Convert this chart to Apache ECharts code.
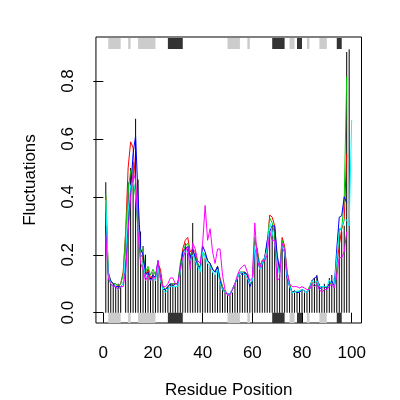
<!DOCTYPE html>
<html>
<head>
<meta charset="utf-8">
<script src="https://cdn.jsdelivr.net/npm/echarts/dist/echarts.min.js"></script>
<style>
html, body { margin: 0; padding: 0; background: #fff; }
#chart { width: 400px; height: 400px; }
</style>
</head>
<body>
<div id="chart"></div>
<script>
// per-residue fluctuations, residue 1 first
const blackFluct = [0.45,0.12,0.10,0.10,0.09,0.10,0.09,null,0.25,0.45,
  0.50,0.52,0.67,0.46,0.28,0.23,0.20,0.15,0.12,0.14,
  0.12,0.17,0.13,0.08,0.08,0.09,0.10,0.10,0.09,0.10,
  0.16,0.21,0.24,0.22,0.20,0.31,0.20,0.17,0.15,0.20,
  0.19,0.17,0.16,0.14,0.13,0.16,0.11,0.08,0.07,0.06,
  0.06,0.07,0.10,0.12,0.13,0.14,0.14,0.13,0.10,0.11,
  0.22,0.22,0.15,0.17,0.19,0.22,0.28,0.30,0.29,0.17,
  0.13,0.24,0.22,0.13,0.09,0.07,0.07,0.07,0.07,0.08,
  0.07,0.07,0.09,0.11,0.12,0.13,0.10,0.09,0.10,0.09,
  0.12,0.13,0.12,0.20,0.29,0.28,0.30,0.90,0.91];
const redFluct = [0.40,0.14,0.11,0.10,0.10,0.09,0.10,0.14,0.28,0.50,
  0.59,0.57,0.45,0.30,0.20,0.19,0.13,0.15,0.12,0.13,
  0.12,0.17,0.15,0.09,0.08,0.09,0.10,0.10,0.10,0.10,
  0.16,0.22,0.25,0.26,0.21,0.22,0.21,0.17,0.15,0.20,
  0.20,0.18,0.17,0.15,0.14,0.16,0.12,0.09,0.07,0.065,
  0.065,0.08,0.10,0.12,0.14,0.14,0.14,0.13,0.10,0.11,
  0.25,0.22,0.16,0.18,0.19,0.24,0.337,0.33,0.30,0.19,
  0.14,0.26,0.23,0.14,0.10,0.07,0.075,0.07,0.075,0.08,
  0.075,0.07,0.08,0.11,0.10,0.11,0.09,0.09,0.09,0.09,
  0.10,0.10,0.09,0.17,0.23,0.29,0.32,0.55];
const greenFluct = [0.41,0.14,0.11,0.10,0.10,0.09,0.10,0.13,0.27,0.42,
  0.49,0.46,0.40,0.28,0.21,0.22,0.14,0.16,0.13,0.15,
  0.13,0.17,0.12,0.09,0.08,0.09,0.10,0.10,0.10,0.10,
  0.17,0.21,0.23,0.24,0.20,0.21,0.20,0.17,0.15,0.21,
  0.20,0.18,0.17,0.15,0.14,0.16,0.11,0.09,0.07,0.065,
  0.065,0.08,0.10,0.12,0.14,0.14,0.14,0.13,0.10,0.11,
  0.26,0.21,0.16,0.18,0.19,0.23,0.327,0.31,0.27,0.18,
  0.14,0.25,0.22,0.14,0.10,0.07,0.075,0.07,0.075,0.08,
  0.075,0.07,0.09,0.11,0.10,0.11,0.09,0.09,0.09,0.09,
  0.10,0.10,0.09,0.18,0.285,0.29,0.39,0.815];
const blueFluct = [0.30,0.13,0.11,0.10,0.09,0.09,0.09,0.10,0.16,0.30,
  0.42,0.55,0.61,0.40,0.22,0.20,0.13,0.14,0.11,0.13,
  0.12,0.18,0.12,0.08,0.08,0.09,0.10,0.09,0.10,0.10,
  0.15,0.21,0.22,0.23,0.19,0.22,0.19,0.16,0.16,0.23,
  0.21,0.18,0.17,0.15,0.14,0.16,0.11,0.08,0.07,0.065,
  0.065,0.08,0.10,0.12,0.14,0.13,0.14,0.13,0.09,0.11,
  0.22,0.20,0.15,0.165,0.19,0.25,0.28,0.30,0.30,0.20,
  0.15,0.22,0.21,0.12,0.09,0.07,0.075,0.07,0.07,0.08,
  0.075,0.07,0.08,0.11,0.12,0.125,0.08,0.09,0.09,0.085,
  0.10,0.11,0.09,0.22,0.33,0.335,0.40,0.38];
const cyanFluct = [0.39,0.13,0.10,0.09,0.09,0.08,0.09,0.10,0.20,0.35,
  0.44,0.45,0.42,0.30,0.18,0.17,0.12,0.13,0.11,0.12,
  0.11,0.16,0.11,0.08,0.07,0.08,0.09,0.09,0.09,0.09,
  0.14,0.19,0.21,0.21,0.18,0.20,0.18,0.16,0.14,0.21,
  0.19,0.17,0.16,0.14,0.13,0.15,0.10,0.08,0.07,0.065,
  0.065,0.08,0.10,0.12,0.14,0.14,0.13,0.12,0.10,0.11,
  0.23,0.19,0.15,0.17,0.19,0.22,0.31,0.28,0.24,0.17,
  0.13,0.23,0.21,0.13,0.09,0.07,0.07,0.075,0.075,0.08,
  0.075,0.07,0.08,0.11,0.10,0.11,0.09,0.09,0.09,0.09,
  0.113,0.10,0.09,0.19,0.28,0.30,0.32,0.32,0.30,0.665];
const magentaFluct = [0.27,0.12,0.10,0.09,0.09,0.08,0.09,0.09,0.14,0.28,
  0.40,0.48,0.46,0.28,0.17,0.15,0.11,0.13,0.11,0.12,
  0.12,0.18,0.12,0.09,0.09,0.10,0.12,0.12,0.10,0.10,
  0.15,0.19,0.21,0.23,0.15,0.24,0.22,0.18,0.17,0.24,
  0.37,0.25,0.29,0.21,0.17,0.22,0.22,0.13,0.08,0.06,
  0.06,0.08,0.10,0.13,0.15,0.16,0.165,0.14,0.11,0.12,
  0.31,0.18,0.155,0.18,0.18,0.20,0.28,0.25,0.25,0.11,
  0.12,0.24,0.22,0.14,0.10,0.09,0.09,0.09,0.085,0.09,
  0.085,0.08,0.08,0.10,0.09,0.10,0.08,0.07,0.08,0.08,
  0.09,0.10,0.085,0.13,0.19,0.19,0.21,0.28];

// secondary structure, [start, end] residues
const helixRanges = [[26, 32], [68, 73], [78, 80], [94, 96]];
const strandRanges = [[2, 7], [10, 11], [14, 21], [50, 55], [58, 59], [75, 77], [82, 83], [87, 90]];

const xTicks = [0, 20, 40, 60, 80, 100];
const yTicks = [0, 0.2, 0.4, 0.6, 0.8];

function pairs(arr) {
  return arr.map(function (v, i) { return [i + 1, v]; });
}

// sse blocks: one strip above the data and one under zero
function sseRender(params, api) {
  const s = api.value(0);
  const e = api.value(1);
  const bands = [[0.9486, 0.9106], [0, -0.0356]];
  return {
    type: 'group',
    children: bands.map(function (b) {
      const p0 = api.coord([s, b[0]]);
      const p1 = api.coord([e, b[1]]);
      return {
        type: 'rect',
        shape: { x: p0[0], y: p0[1], width: p1[0] - p0[0], height: p1[1] - p0[1] },
        style: { fill: api.visual('color') }
      };
    })
  };
}

const font = 'Liberation Sans';
const chart = echarts.init(document.getElementById('chart'));

function lineSeries(arr, color) {
  return {
    type: 'line',
    data: pairs(arr),
    symbol: 'none',
    lineStyle: { color: color, width: 1 },
    itemStyle: { color: color }
  };
}

chart.setOption({
  animation: false,
  backgroundColor: '#fff',
  grid: [
    {
      left: 95.95, right: 38.5, top: 37, bottom: 77, outerBoundsMode: 'none',
      show: true, borderColor: '#000', borderWidth: 1
    },
    // helper grid for the R style axes (0..100, 0..0.8)
    { left: 103.3, right: 48.3, top: 81, bottom: 87.3, outerBoundsMode: 'none' }
  ],
  xAxis: [
    {
      type: 'value', gridIndex: 0, min: -2.96, max: 103.96,
      axisLine: { show: false }, axisTick: { show: false }, axisLabel: { show: false },
      splitLine: { show: false },
      name: 'Residue Position', nameLocation: 'middle', nameGap: 59,
      nameTextStyle: { fontFamily: font, fontSize: 17, color: '#000' }
    },
    {
      type: 'value', gridIndex: 1, min: xTicks[0], max: xTicks[xTicks.length - 1],
      interval: xTicks[1] - xTicks[0], offset: 10.3,
      axisLine: { show: false },
      axisTick: { length: 10, lineStyle: { color: '#000', width: 1 } },
      axisLabel: { margin: 22, fontFamily: font, fontSize: 17, color: '#000' },
      splitLine: { show: false }
    }
  ],
  yAxis: [
    {
      type: 'value', gridIndex: 0, min: -0.0356, max: 0.952,
      axisLine: { show: false }, axisTick: { show: false }, axisLabel: { show: false },
      splitLine: { show: false },
      name: 'Fluctuations', nameLocation: 'middle', nameGap: 57, nameRotate: 90,
      nameTextStyle: { fontFamily: font, fontSize: 17, color: '#000' }
    },
    {
      type: 'value', gridIndex: 1, min: yTicks[0], max: yTicks[yTicks.length - 1],
      interval: yTicks[1] - yTicks[0], offset: 7.35,
      axisLine: { show: false },
      axisTick: { length: 10, lineStyle: { color: '#000', width: 1 } },
      axisLabel: {
        rotate: 90, margin: 19, fontFamily: font, fontSize: 17, color: '#000',
        formatter: function (v) { return v.toFixed(1); }
      },
      splitLine: { show: false }
    }
  ],
  series: [
    { type: 'custom', data: strandRanges, renderItem: sseRender, itemStyle: { color: '#cccccc' } },
    { type: 'custom', data: helixRanges, renderItem: sseRender, itemStyle: { color: '#333333' } },
    { type: 'bar', data: pairs(blackFluct), barWidth: 1, itemStyle: { color: '#000' } },
    lineSeries(redFluct, '#ff0000'),
    lineSeries(greenFluct, '#00cd00'),
    lineSeries(blueFluct, '#0000ff'),
    lineSeries(cyanFluct, '#00ffff'),
    lineSeries(magentaFluct, '#ff00ff')
  ]
});
</script>
</body>
</html>
